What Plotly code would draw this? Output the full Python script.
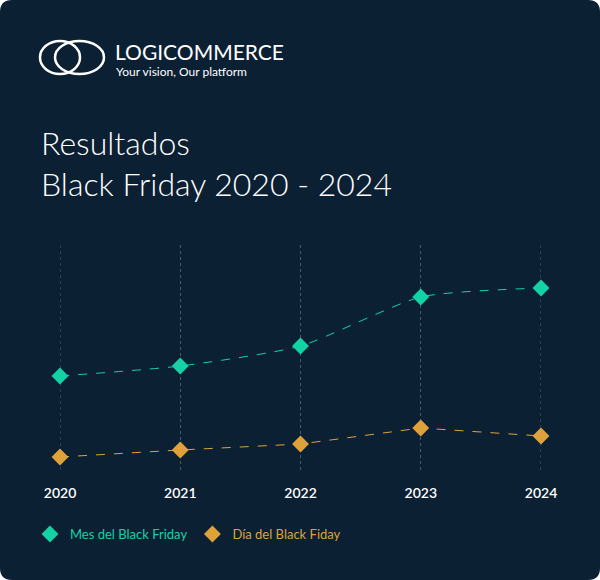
import plotly.graph_objects as go

years = [2020, 2021, 2022, 2023, 2024]
mes = [94, 104, 124, 173, 182]
dia = [13, 20, 26, 42, 34]
tick_labels = ["2020", "2021", "2022", "2023", "2024"]

BG = "#0c2034"
TEAL = "#12d3a5"
GOLD = "#dfa23a"

L, R, T, B = 60, 541, 245, 470
def px(x): return (x - L) / (R - L)
def py(y): return (B - y) / (B - T)

fig = go.Figure()
fig.add_trace(go.Scatter(x=years, y=mes, mode="lines+markers", showlegend=False,
    line=dict(color=TEAL, width=1, dash="dash", shape="spline", smoothing=0.6),
    marker=dict(symbol="diamond", size=13, color=TEAL), cliponaxis=False))
fig.add_trace(go.Scatter(x=years, y=dia, mode="lines+markers", showlegend=False,
    line=dict(color=GOLD, width=1, dash="dash"),
    marker=dict(symbol="diamond", size=13, color=GOLD), cliponaxis=False))
for name, c in [("Mes del Black Friday", TEAL), ("Día del Black Fiday", GOLD)]:
    fig.add_trace(go.Scatter(x=[None], y=[None], mode="markers",
        name=f"<span style='color:{c}'>{name}</span>",
        marker=dict(symbol="diamond", size=13, color=c)))

r = 12
x0, x1, y0, y1 = px(0), px(600), py(580), py(0)
rx, ry = r / (R - L), r / (B - T)
path = (f"M {x0+rx},{y0} L {x1-rx},{y0} Q {x1},{y0} {x1},{y0+ry} L {x1},{y1-ry} Q {x1},{y1} {x1-rx},{y1} "
        f"L {x0+rx},{y1} Q {x0},{y1} {x0},{y1-ry} L {x0},{y0+ry} Q {x0},{y0} {x0+rx},{y0} Z")
shapes = [dict(type="path", path=path, xref="paper", yref="paper", fillcolor=BG, line_width=0, layer="below")]
shapes.append(dict(type="circle", xref="paper", yref="paper", x0=px(40), x1=px(80), y0=py(74), y1=py(41),
                   line=dict(color="white", width=2.5)))
shapes.append(dict(type="circle", xref="paper", yref="paper", x0=px(55), x1=px(104), y0=py(74), y1=py(41),
                   line=dict(color="white", width=2.5)))
for yr in (years[0], years[-1]):
    shapes.append(dict(type="line", xref="x", yref="paper", x0=yr, x1=yr, y0=0, y1=1, layer="below",
                       line=dict(color="#4a5b6c", width=1, dash="dot")))

annotations = [
    dict(text="LOGICOMMERCE", x=px(113), y=py(51), xref="paper", yref="paper", showarrow=False,
         xanchor="left", yanchor="middle", font=dict(family="Lato", size=21, color="white")),
    dict(text="Your vision, Our platform", x=px(114), y=py(72), xref="paper", yref="paper", showarrow=False,
         xanchor="left", yanchor="middle", font=dict(family="Lato", size=12, color="white")),
    dict(text="Resultados", x=px(39), y=py(142), xref="paper", yref="paper", showarrow=False,
         xanchor="left", yanchor="middle", font=dict(family="Lato", size=32, color="white", weight=300)),
    dict(text="Black Friday 2020 - 2024", x=px(39), y=py(183), xref="paper", yref="paper", showarrow=False,
         xanchor="left", yanchor="middle", font=dict(family="Lato", size=32, color="white", weight=300)),
]

fig.update_layout(
    width=600, height=580, paper_bgcolor="white", plot_bgcolor="rgba(0,0,0,0)",
    margin=dict(l=L, r=600 - R, t=T, b=580 - B),
    shapes=shapes, annotations=annotations,
    xaxis=dict(range=[2020, 2024], tickvals=years, ticktext=tick_labels, showgrid=True,
               gridcolor="#4a5b6c", griddash="dot", gridwidth=1, zeroline=False, showline=False,
               ticks="", ticklabelstandoff=13,
               tickfont=dict(family="Lato", size=14, color="white", weight=600)),
    yaxis=dict(range=[0, 225], visible=False),
    legend=dict(orientation="h", x=px(30), y=py(534), xanchor="left", yanchor="middle",
                font=dict(family="Lato", size=13), itemwidth=30, bgcolor="rgba(0,0,0,0)"),
)
fig.write_html("out.html", config={"displayModeBar": False})
with open("out.html", encoding="utf-8") as f:
    html = f.read()
html = html.replace("<body>", '<body style="margin:0">', 1)
with open("out.html", "w", encoding="utf-8") as f:
    f.write(html)
